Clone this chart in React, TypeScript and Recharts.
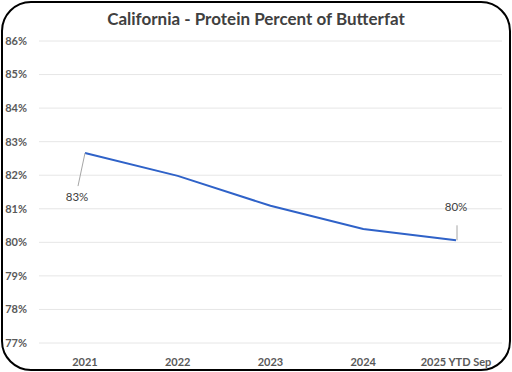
import React from "react";
import { LineChart, Line, XAxis, YAxis, CartesianGrid, LabelList } from "recharts";

const categories = ["2021", "2022", "2023", "2024", "2025 YTD Sep"];
const proteinPct = [82.66, 81.98, 81.09, 80.4, 80.06];
const yTicks = [77, 78, 79, 80, 81, 82, 83, 84, 85, 86];
const labelText = ["83%", "", "", "", "80%"];

const data = categories.map((c, i) => ({ year: c, value: proteinPct[i], label: labelText[i] }));

const FONT = "Lato, 'Liberation Sans', sans-serif";

const PointLabel = (props: any) => {
  const { x, y, index, value } = props;
  if (!value) return null;
  if (index === 0) {
    return (
      <g>
        <line x1={x} y1={y} x2={x - 7} y2={y + 33} stroke="#a6a6a6" strokeWidth={1} />
        <text x={x - 8} y={y + 48} textAnchor="middle" fontSize={11.5} fill="#404040" fontFamily={FONT}>
          {value}
        </text>
      </g>
    );
  }
  return (
    <g>
      <line x1={x + 1} y1={y} x2={x + 1} y2={y - 15} stroke="#a6a6a6" strokeWidth={1} />
      <text x={x} y={y - 29} textAnchor="middle" fontSize={11.5} fill="#404040" fontFamily={FONT}>
        {value}
      </text>
    </g>
  );
};

export default function App() {
  return (
    <div style={{ position: "fixed", left: 0, top: 0, width: 512, height: 372, background: "#fff" }}>
      <div
        style={{
          position: "absolute",
          left: 0,
          top: 10,
          width: 512,
          textAlign: "center",
          fontFamily: FONT,
          fontWeight: 700,
          fontSize: 17,
          color: "#404040",
          lineHeight: "17px",
        }}
      >
        California - Protein Percent of Butterfat
      </div>
      <div style={{ position: "absolute", left: 0, top: 0 }}>
        <LineChart width={512} height={372} data={data} margin={{ top: 41, right: 10, bottom: 0, left: 0 }}>
          <CartesianGrid vertical={false} stroke="#e6e6e6" />
          <XAxis
            dataKey="year"
            axisLine={false}
            tickLine={false}
            height={29}
            tickSize={6}
            tickMargin={9}
            interval={0}
            padding={{ left: 46, right: 46 }}
            tick={{ fontSize: 11, fill: "#595959", fontFamily: FONT, fontWeight: 700 }}
          />
          <YAxis
            domain={[77, 86]}
            ticks={yTicks}
            width={39}
            axisLine={false}
            tickLine={false}
            tickSize={6}
            tickMargin={6}
            tickFormatter={(v: number) => `${v}%`}
            tick={{ fontSize: 11, fill: "#595959", fontFamily: FONT, fontWeight: 700 }}
          />
          <Line
            type="linear"
            dataKey="value"
            stroke="#2f62c8"
            strokeWidth={2}
            dot={false}
            isAnimationActive={false}
          >
            <LabelList dataKey="label" content={<PointLabel />} />
          </Line>
        </LineChart>
      </div>
      <div
        style={{
          position: "absolute",
          left: 1,
          top: 1,
          width: 510,
          height: 370,
          boxSizing: "border-box",
          border: "2px solid #000",
          borderRadius: 30,
          pointerEvents: "none",
        }}
      />
    </div>
  );
}
